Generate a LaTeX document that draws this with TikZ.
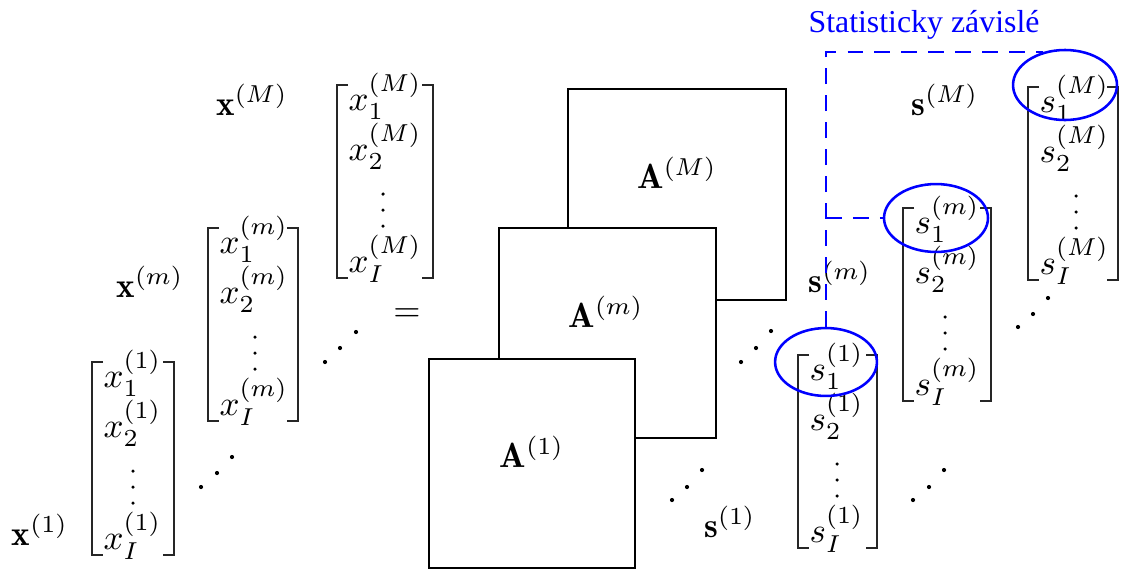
\documentclass[tikz,border=0pt]{standalone}
\usepackage{fontspec}
\newfontfamily\blfont{Liberation Serif}
\usetikzlibrary{shapes.geometric}
\newcommand{\drawmat}[7]{%
  \draw[brk] ({#1+11},#2) -- (#1,#2) -- (#1,{#2+193}) -- ({#1+11},{#2+193});
  \draw[brk] ({#3-11},#2) -- (#3,#2) -- (#3,{#2+193}) -- ({#3-11},{#2+193});
  \node[ent] (#4a) at ({#1+11},{#2+25}) {$#5_1^{(#6)}$};
  \node[ent] (#4b) at ({#1+11},{#2+75}) {$#5_2^{(#6)}$};
  \node[ent] (#4c) at ({#1+11},{#2+187}) {$#5_I^{(#6)}$};
  \fill ({#7},{#2+109}) circle (0.5pt) ({#7},{#2+125}) circle (0.5pt) ({#7},{#2+141}) circle (0.5pt);
}
\newcommand{\ddd}[6]{%
  \fill (#1,#2) circle (0.6pt) (#3,#4) circle (0.6pt) (#5,#6) circle (0.6pt);
}
\begin{document}
\begin{tikzpicture}[x=0.2857pt,y=-0.2857pt,
  brk/.style={line width=0.64pt, black!85},
  ent/.style={anchor=base west, inner sep=0pt},
  lbl/.style={anchor=base, inner sep=0pt},
  abox/.style={draw, fill=white, line width=0.73pt, inner sep=0pt},
  sel/.style={draw=blue, ellipse, line width=0.73pt, inner sep=0pt},
  dep/.style={draw=blue, dash pattern=on 4.5pt off 3.2pt, line width=0.73pt},
]
\useasboundingbox (0,0) rectangle (1128,569);

% x matrices
\drawmat{92}{362}{174}{x1}{x}{1}{133}
\drawmat{208}{228}{298}{xm}{x}{m}{255}
\drawmat{337}{85}{433}{xM}{x}{M}{383}
\node[lbl] (lx1) at (40,545) {$\mathbf{x}^{(1)}$};
\node[lbl] (lxm) at (150,297) {$\mathbf{x}^{(m)}$};
\node[lbl] (lxM) at (252,115) {$\mathbf{x}^{(M)}$};
\ddd{201}{487}{217}{473}{232}{457}
\ddd{325}{362}{340}{348}{356}{332}
\node (eq) at (407,315) {$=$};

% A boxes
\node[abox, minimum width=62.3pt, minimum height=60.3pt] (AM) at (677,194.5) {};
\node[lbl] (AMl) at (677,188) {$\mathbf{A}^{(M)}$};
\node[abox, minimum width=62.0pt, minimum height=60.0pt] (Am) at (607.5,333) {};
\node[lbl] (Aml) at (606,327) {$\mathbf{A}^{(m)}$};
\node[abox, minimum width=58.9pt, minimum height=59.6pt] (A1) at (532,463.5) {};
\node[lbl] (A1l) at (532,467) {$\mathbf{A}^{(1)}$};

% s matrices
\drawmat{798}{355}{877}{s1}{s}{1}{837}
\drawmat{903}{208}{991}{sm}{s}{m}{945}
\drawmat{1028}{87}{1118}{sM}{s}{M}{1076}
\node[lbl] (ls1) at (730,537) {$\mathbf{s}^{(1)}$};
\node[lbl] (lsm) at (840,292) {$\mathbf{s}^{(m)}$};
\node[lbl] (lsM) at (945,115) {$\mathbf{s}^{(M)}$};
\ddd{672}{500}{687}{487}{702}{470}
\ddd{741}{362}{756}{348}{771}{331}
\ddd{913}{500}{929}{487}{944}{470}
\ddd{1018}{327}{1033}{314}{1048}{298}

% dependence marks
\node[sel, minimum width=29.1pt, minimum height=19.4pt] (e1) at (826,362) {};
\node[sel, minimum width=29.7pt, minimum height=19.4pt] (em) at (936,218) {};
\node[sel, minimum width=29.7pt, minimum height=20.0pt] (eM) at (1065,85) {};
\draw[dep] (e1.north) |- (eM.123);
\draw[dep] (e1.north |- em.west) -- (em.west);
\node[anchor=base, inner sep=0pt, text=blue, font=\blfont\fontsize{9.1}{11}\selectfont] (title) at (924,32) {Statisticky závislé};
\end{tikzpicture}
\end{document}
